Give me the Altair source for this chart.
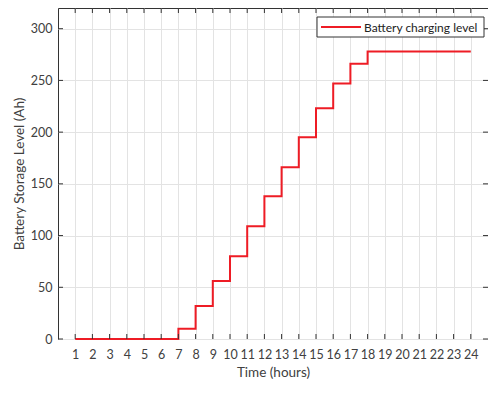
import altair as alt
import pandas as pd

hours = list(range(1, 25))
levels = [0, 0, 0, 0, 0, 0, 10, 32, 56, 80, 109, 138, 166, 195, 223, 247, 266, 278,
          278, 278, 278, 278, 278, 278]
series_name = "Battery charging level"
y_ticks = [0, 50, 100, 150, 200, 250, 300]

W, H = 430, 331
FONT = "Lato"
FRAME = "#333333"
TXT = "#404040"
RED = "#ee1c25"

df = pd.DataFrame({"hour": hours, "level": levels, "series": series_name})
xt = pd.DataFrame({"hour": hours})
yt = pd.DataFrame({"level": y_ticks})
leg = pd.DataFrame({"series": [series_name]})

xscale = alt.Scale(domain=[0, 25], nice=False, zero=False)
yscale = alt.Scale(domain=[0, 320], nice=False)

xaxis = alt.Axis(values=hours, title="Time (hours)", grid=True, ticks=False,
                 domain=False, labelPadding=9, titlePadding=5, labelFlush=False)
yaxis = alt.Axis(values=y_ticks, title="Battery Storage Level (Ah)", grid=True,
                 ticks=False, domain=False, labelPadding=6, titlePadding=4)

line = alt.Chart(df).mark_line(interpolate="step-after", strokeWidth=2, color=RED).encode(
    x=alt.X("hour:Q", scale=xscale, axis=xaxis),
    y=alt.Y("level:Q", scale=yscale, axis=yaxis),
)

bt = alt.Chart(xt).mark_rule(color=FRAME, strokeWidth=1).encode(
    x=alt.X("hour:Q", scale=xscale, axis=xaxis), y=alt.value(H), y2=alt.value(H - 5))
tt = alt.Chart(xt).mark_rule(color=FRAME, strokeWidth=1).encode(
    x=alt.X("hour:Q", scale=xscale, axis=xaxis), y=alt.value(0), y2=alt.value(5))
lt = alt.Chart(yt).mark_rule(color=FRAME, strokeWidth=1).encode(
    y=alt.Y("level:Q", scale=yscale, axis=yaxis), x=alt.value(0), x2=alt.value(5))
rt = alt.Chart(yt).mark_rule(color=FRAME, strokeWidth=1).encode(
    y=alt.Y("level:Q", scale=yscale, axis=yaxis), x=alt.value(W), x2=alt.value(W - 5))

# legend box
leg_box = alt.Chart(leg).mark_rect(fill="white", stroke=FRAME, strokeWidth=1).encode(
    x=alt.value(259), x2=alt.value(426), y=alt.value(9), y2=alt.value(29))
leg_line = alt.Chart(leg).mark_rule(color=RED, strokeWidth=2).encode(
    x=alt.value(263), x2=alt.value(303), y=alt.value(19))
leg_text = alt.Chart(leg).mark_text(align="left", baseline="middle", font=FONT,
                                    fontSize=12, color="#222222").encode(
    x=alt.value(306), y=alt.value(19.5), text="series:N")

chart = alt.layer(line, bt, tt, lt, rt, leg_box, leg_line, leg_text).properties(
    width=W, height=H,
    autosize=alt.AutoSizeParams(type="none"),
    padding={"left": 50, "top": 0, "right": 0, "bottom": 41},
).configure_view(stroke=FRAME, strokeWidth=1).configure_axis(
    gridColor="#e3e3e3", gridWidth=1, labelFont=FONT, titleFont=FONT,
    labelFontSize=12.5, titleFontSize=13.5, labelColor=TXT, titleColor=TXT,
    titleFontWeight="normal",
)

chart.save("out.html", embed_options={"renderer": "svg", "actions": False})
